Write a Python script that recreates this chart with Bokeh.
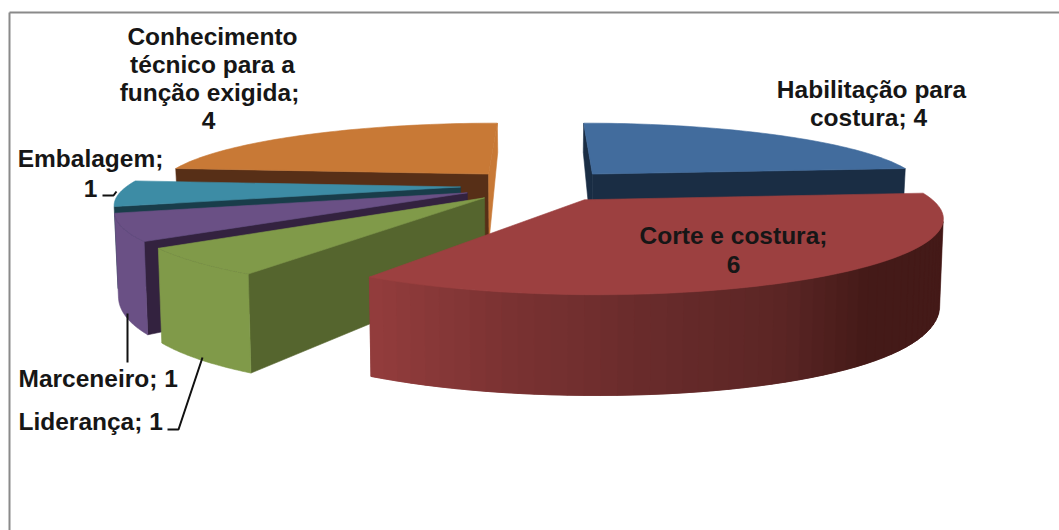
import numpy as np
from bokeh.core.properties import value
from bokeh.embed import file_html
from bokeh.models import Range1d
from bokeh.plotting import figure
from bokeh.resources import INLINE

# Survey answers per qualification
categories = ["Habilitação para costura", "Corte e costura", "Liderança", "Marceneiro",
              "Embalagem", "Conhecimento técnico para a função exigida"]
counts = [4, 6, 1, 1, 1, 4]

top_colors = ["#426c9d", "#9c4040", "#809a49", "#6a5085", "#3d8ca5", "#c87936"]
cut_colors = ["#1a2d44", "#441a18", "#55652e", "#33223f", "#193d4a", "#572f17"]
rim_colors = ["#1a2d44", None, "#809a49", "#6a5085", "#3d8ca5", "#c87936"]
end_cut_colors = {5: "#c87936"}

# Projection of the tilted, exploded pie on to the page
EXPLODE = 0.24
CX, CY_TOP, S_TOP, T_TOP = 540.0, 185.0, 333.0, 66.7
K_X, K_Y = 0.21, 0.22
CY_BOT, S_BOT, T_BOT, K_BOT = 257.6, 330.0, 100.4, 0.10
CAMERA = np.array([0.0, -4.5])


def top_xy(u, v):
    return CX + S_TOP * u / (1 + K_X * v), CY_TOP - T_TOP * v / (1 + K_Y * v)


def bottom_xy(u, v):
    return CX + S_BOT * u / (1 + K_X * v), CY_BOT - T_BOT * v / (1 + K_BOT * v)


p = figure(width=1059, height=530, output_backend="svg", toolbar_location=None,
           x_range=Range1d(0, 1059), y_range=Range1d(530, 0),
           min_border=0, background_fill_color="white", border_fill_color="white")
p.axis.visible = False
p.grid.visible = False
p.outline_line_color = None


def poly(xs, ys, color):
    p.patch(list(xs), list(ys), fill_color=color, line_color=color, line_width=0.6)


def red_rim_color(x):
    stops = [375, 500, 640, 780, 870, 945]
    rgb = np.array([[0x93, 0x3d, 0x3d], [0x7c, 0x33, 0x33], [0x6a, 0x2c, 0x2c],
                    [0x5c, 0x26, 0x25], [0x44, 0x1a, 0x18], [0x44, 0x1a, 0x18]])
    r, g, b = (int(np.interp(x, stops, rgb[:, i])) for i in range(3))
    return f"#{r:02x}{g:02x}{b:02x}"


total = sum(counts)
edges = np.cumsum([0] + counts) / total * 2 * np.pi
order = [0, 5, 4, 3, 2, 1]

for i in order:
    a0, a1 = edges[i], edges[i + 1]
    mid = (a0 + a1) / 2
    apex = EXPLODE * np.array([np.sin(mid), np.cos(mid)])
    arc = np.linspace(a0, a1, 60)
    u = apex[0] + np.sin(arc)
    v = apex[1] + np.cos(arc)
    to_cam = CAMERA - apex

    # Straight cut faces running from the slice centre to its rim
    for ang, sign, color in ((a0, -1, cut_colors[i]), (a1, 1, end_cut_colors.get(i, cut_colors[i]))):
        normal = sign * np.array([np.cos(ang), -np.sin(ang)])
        if normal @ to_cam > 0:
            ru, rv = apex[0] + np.sin(ang), apex[1] + np.cos(ang)
            x0, y0 = top_xy(apex[0], apex[1])
            x1, y1 = top_xy(ru, rv)
            x2, y2 = bottom_xy(ru, rv)
            x3, y3 = bottom_xy(apex[0], apex[1])
            poly([x0, x1, x2, x3], [y0, y1, y2, y3], color)

    # Curved outer wall, only where it faces the viewer
    tx, ty = top_xy(u, v)
    bx, by = bottom_xy(u, v)
    facing = [j for j in range(len(arc))
              if np.array([np.sin(arc[j]), np.cos(arc[j])]) @ (CAMERA - np.array([u[j], v[j]])) > 0]
    if facing and rim_colors[i]:
        poly([*tx[facing], *bx[facing][::-1]], [*ty[facing], *by[facing][::-1]], rim_colors[i])
    elif facing:
        # Shaded wall: each band overlaps the next one so no seams show
        for j, k in zip(facing[:-1], facing[1:]):
            e = min(k + 1, facing[-1])
            color = red_rim_color((tx[j] + tx[k]) / 2)
            poly([tx[j], tx[e], bx[e], bx[j]], [ty[j], ty[e], by[e], by[j]], color)

    # Top face of the slice
    ax, ay = top_xy(apex[0], apex[1])
    poly([ax, *tx], [ay, *ty], top_colors[i])

# Chart frame
p.line([9, 9], [530, 12], line_color="#8a8a8a", line_width=2)
p.line([9, 1059], [12, 12], line_color="#8a8a8a", line_width=2)

# Leader lines
for lx, ly in (([102, 113, 116], [195, 195, 191]),
               ([127, 127], [313, 362]),
               ([167, 178, 202], [429, 429, 357])):
    p.line(lx, ly, line_color="#111111", line_width=2)

# Data labels, wrapped as they appear on the chart
hab, corte, lid, marc, emb, conh = counts
labels = [
    ("Conhecimento", 212, 36, "center"),
    ("técnico para a", 212, 64, "center"),
    ("função exigida;", 209, 92, "center"),
    (f"{conh}", 208, 120, "center"),
    ("Embalagem;", 90, 158, "center"),
    (f"{emb}", 90, 188, "center"),
    (f"Marceneiro; {marc}", 18, 378, "left"),
    (f"Liderança; {lid}", 18, 421, "left"),
    ("Habilitação para", 871, 89, "center"),
    (f"costura; {hab}", 868, 117, "center"),
    ("Corte e costura;", 733, 235, "center"),
    (f"{corte}", 733, 264, "center"),
]
for text, x, y, align in labels:
    p.text([x], [y], text=[text], text_font=value("Liberation Sans"), text_font_style="bold",
           text_font_size="24.5px", text_color="#161616", text_align=align, text_baseline="middle")

open("out.html", "w").write(file_html(p, INLINE))
